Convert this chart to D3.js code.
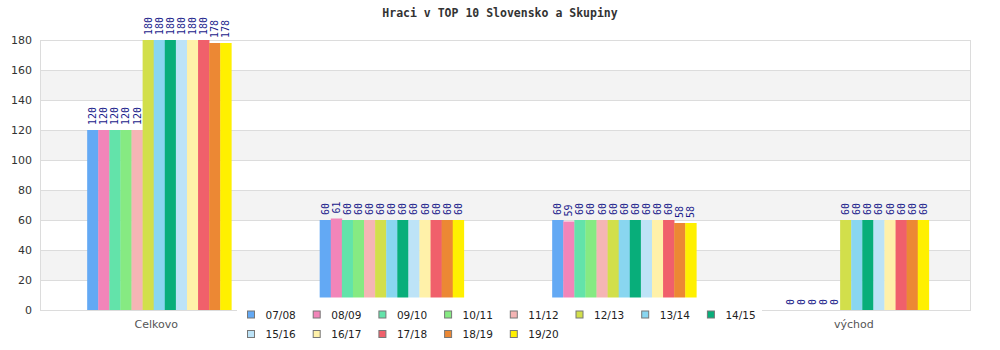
<!DOCTYPE html>
<html>
<head>
<meta charset="utf-8">
<script src="https://cdn.jsdelivr.net/npm/d3@7"></script>
<style>
html,body{margin:0;padding:0;background:#fff;}
svg{display:block;}
</style>
</head>
<body>
<svg id="chart" width="1000" height="350"></svg>
<script>
const categories = ["Celkovo", "západ", "stred", "východ"];
const visibleCategoryLabels = ["Celkovo", "", "", "východ"];
const seasons = ["07/08","08/09","09/10","10/11","11/12","12/13","13/14","14/15","15/16","16/17","17/18","18/19","19/20"];
const colors = ["#63a9f4","#f285b9","#63e3aa","#86ea82","#f5b5b5","#d2df4b","#89d6f0","#08ae7a","#bde3f7","#fff1a9","#f0606b","#ec8834","#fff000"];
const v0708 = [120, 60, 60, 0];
const v0809 = [120, 61, 59, 0];
const v0910 = [120, 60, 60, 0];
const v1011 = [120, 60, 60, 0];
const v1112 = [120, 60, 60, 0];
const v1213 = [180, 60, 60, 60];
const v1314 = [180, 60, 60, 60];
const v1415 = [180, 60, 60, 60];
const v1516 = [180, 60, 60, 60];
const v1617 = [180, 60, 60, 60];
const v1718 = [180, 60, 60, 60];
const v1819 = [178, 60, 58, 60];
const v1920 = [178, 60, 58, 60];
const seriesValues = [v0708,v0809,v0910,v1011,v1112,v1213,v1314,v1415,v1516,v1617,v1718,v1819,v1920];
const yTicks = [0,20,40,60,80,100,120,140,160,180];
const title = "Hraci v TOP 10 Slovensko a Skupiny";

const svg = d3.select("#chart");
const L = 40, R = 970, T = 40, B = 310;

const y = d3.scaleLinear().domain([0,180]).range([B,T]);
const x0 = d3.scaleBand().domain(categories).range([L,R]).paddingInner(0.38).paddingOuter(0.19);
const xBars = d3.scaleBand().domain(categories).range([L+3,R+3]).paddingInner(0.38).paddingOuter(0.19);
const x1 = d3.scaleBand().domain(seasons).range([0, xBars.bandwidth()]);

// title
svg.append("text").attr("x",500).attr("y",13).attr("text-anchor","middle")
  .attr("dominant-baseline","central")
  .style("font-family","'DejaVu Sans Mono', monospace").style("font-weight","bold")
  .style("font-size","11.5px").attr("fill","#333").text(title);

// bands
const bands = yTicks.slice(0,-1);
svg.append("g").selectAll("rect").data(bands).join("rect")
  .attr("x",L).attr("width",R-L)
  .attr("y",d=>y(d+20)).attr("height",d=>y(d)-y(d+20))
  .attr("fill",(d,i)=> (i%2===1) ? "#f3f3f3" : "#ffffff");

// grid lines
svg.append("g").selectAll("line").data(yTicks).join("line")
  .attr("x1",L).attr("x2",R).attr("y1",d=>y(d)+0.5).attr("y2",d=>y(d)+0.5)
  .attr("stroke","#dcdcdc").attr("stroke-width",1);
// border
svg.append("line").attr("x1",L+0.5).attr("x2",L+0.5).attr("y1",T).attr("y2",B+1).attr("stroke","#dcdcdc");
svg.append("line").attr("x1",R+0.5).attr("x2",R+0.5).attr("y1",T).attr("y2",B+1).attr("stroke","#dcdcdc");

// y axis
const yAxis = d3.axisLeft(y).tickValues(yTicks).tickSize(0).tickPadding(8);
const ya = svg.append("g").attr("transform",`translate(${L},0)`).call(yAxis);
ya.select(".domain").remove();
ya.selectAll("text").style("font-family","'DejaVu Sans', sans-serif").style("font-size","11px").attr("fill","#333");

// x axis labels (middle two are hidden behind the legend in the reference)
const xAxis = d3.axisBottom(x0).tickSize(0).tickPadding(10)
  .tickFormat(c => visibleCategoryLabels[categories.indexOf(c)]);
const xa = svg.append("g").attr("transform",`translate(0,${B})`).call(xAxis);
xa.select(".domain").remove();
xa.selectAll("text").style("font-family","'DejaVu Sans', sans-serif").style("font-size","11px").attr("fill","#555");

// bars
const gSeries = svg.append("g").selectAll("g").data(seasons).join("g").attr("fill",(d,i)=>colors[i]);
gSeries.each(function(s, si){
  const g = d3.select(this);
  const vals = seriesValues[si];
  g.selectAll("rect").data(categories).join("rect")
    .attr("x",c=>xBars(c)+x1(s)).attr("width",x1.bandwidth()+0.3)
    .attr("y",(c,ci)=>y(vals[ci])).attr("height",(c,ci)=>B-y(vals[ci]));
  g.selectAll("text").data(categories).join("text")
    .attr("transform",(c,ci)=>`translate(${xBars(c)+x1(s)+x1.bandwidth()/2},${y(vals[ci])-5}) rotate(-90)`)
    .attr("text-anchor","start").attr("dominant-baseline","central")
    .style("font-family","'DejaVu Sans Mono', monospace").style("font-size","10px")
    .attr("fill","#1a1a8c").text((c,ci)=>vals[ci]);
});

// legend
const lg = svg.append("g");
lg.append("rect").attr("x",237).attr("y",297.5).attr("width",525).attr("height",48).attr("fill","#fff");
const step = 65.7;
const items = lg.selectAll("g").data(seasons).join("g")
  .attr("transform",(d,i)=>`translate(${247.5 + (i%8)*step},${i<8 ? 314.5 : 334})`);
items.append("rect").attr("x",0).attr("y",-3.5).attr("width",7).attr("height",7)
  .attr("fill",(d,i)=>colors[i]).attr("stroke","#777").attr("stroke-width",1);
items.append("text").attr("x",18).attr("y",0).attr("dominant-baseline","central")
  .style("font-family","'DejaVu Sans', sans-serif").style("font-size","10.5px").attr("fill","#222").text(d=>d);
</script>
</body>
</html>
